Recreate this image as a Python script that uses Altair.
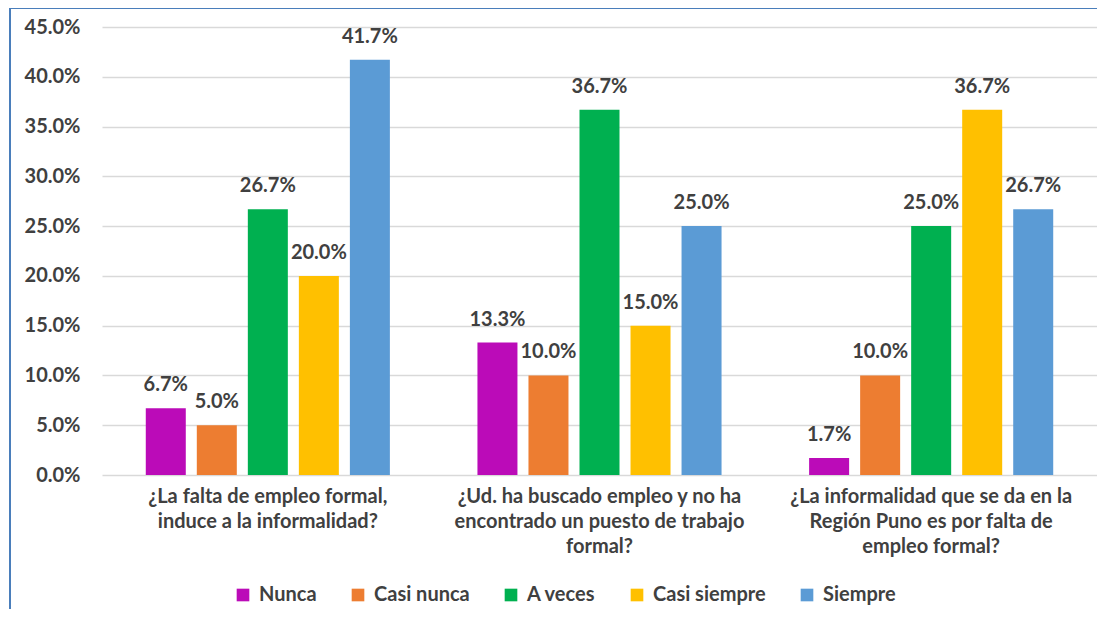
import altair as alt
import pandas as pd

categories = [
    "¿La falta de empleo formal,\ninduce a la informalidad?",
    "¿Ud. ha buscado empleo y no ha\nencontrado un puesto de trabajo\nformal?",
    "¿La informalidad que se da en la\nRegión Puno es por falta de\nempleo formal?",
]
series = ["Nunca", "Casi nunca", "A veces", "Casi siempre", "Siempre"]
nunca = [0.067, 0.133, 0.017]
casi_nunca = [0.050, 0.100, 0.100]
a_veces = [0.267, 0.367, 0.250]
casi_siempre = [0.200, 0.150, 0.367]
siempre = [0.417, 0.250, 0.267]
colors = ["#BB0BB8", "#ED7D31", "#00B050", "#FFC000", "#5B9BD5"]
y_ticks = [0.0, 0.05, 0.10, 0.15, 0.20, 0.25, 0.30, 0.35, 0.40, 0.45]

values_by_series = [nunca, casi_nunca, a_veces, casi_siempre, siempre]
rows = []
for s, vals in zip(series, values_by_series):
    for c, v in zip(categories, vals):
        rows.append({"pregunta": c, "serie": s, "valor": v})
df = pd.DataFrame(rows)

FONT = "Lato"
TXT = "#404040"
FS = 20

base = alt.Chart(df).encode(
    x=alt.X(
        "pregunta:N",
        sort=categories,
        scale=alt.Scale(paddingInner=0.264, paddingOuter=0.132),
        axis=alt.Axis(
            title=None,
            labelAngle=0,
            labelExpr="split(datum.value, '\\n')",
            labelFontSize=FS,
            labelFontWeight="bold",
            labelColor=TXT,
            labelFont=FONT,
            labelLineHeight=25,
            labelPadding=11,
            labelLimit=0,
            labelOverlap=False,
            domain=False,
            ticks=False,
            grid=False,
        ),
    ),
    xOffset=alt.XOffset(
        "serie:N", sort=series, scale=alt.Scale(paddingInner=0.216, paddingOuter=0)
    ),
    y=alt.Y(
        "valor:Q",
        scale=alt.Scale(domain=[0, 0.45]),
        axis=alt.Axis(
            title=None,
            values=y_ticks,
            format=".1%",
            domain=False,
            ticks=False,
            labelFontSize=FS,
            labelFontWeight="bold",
            labelColor=TXT,
            labelFont=FONT,
            labelPadding=22,
            gridColor="#D9D9D9",
            gridWidth=1.5,
        ),
    ),
)

bars = base.mark_bar().encode(
    color=alt.Color(
        "serie:N",
        sort=series,
        scale=alt.Scale(domain=series, range=colors),
        legend=alt.Legend(
            title=None,
            orient="none",
            direction="horizontal",
            legendX=131,
            legendY=558,
            padding=0,
            symbolType="square",
            symbolSize=160,
            symbolStrokeWidth=0,
            labelFontSize=FS,
            labelFontWeight="bold",
            labelColor=TXT,
            labelFont=FONT,
            labelOffset=6,
            columnPadding=31,
            labelLimit=0,
        ),
    )
)

labels = base.mark_text(
    dy=-23, baseline="middle", fontSize=FS, fontWeight="bold", color=TXT, font=FONT
).encode(text=alt.Text("valor:Q", format=".1%"))

frame_df = pd.DataFrame({"k": [0]})
left_border = alt.Chart(frame_df).mark_rule(color="#4A7EBB", strokeWidth=2).encode(
    x=alt.value(-92), x2=alt.value(-92), y=alt.value(-19), y2=alt.value(610)
)
top_border = alt.Chart(frame_df).mark_rule(color="#4A7EBB", strokeWidth=2).encode(
    x=alt.value(-93), x2=alt.value(1100), y=alt.value(-19), y2=alt.value(-19)
)

chart = (
    alt.layer(bars, labels, left_border, top_border)
    .properties(
        width=995,
        height=448,
        autosize=alt.AutoSizeParams(type="none"),
        padding={"left": 94, "top": 19, "right": 0, "bottom": 134},
        background="white",
    )
    .configure_view(stroke=None)
)

chart.save("out.html", embed_options={"renderer": "svg", "actions": False})
